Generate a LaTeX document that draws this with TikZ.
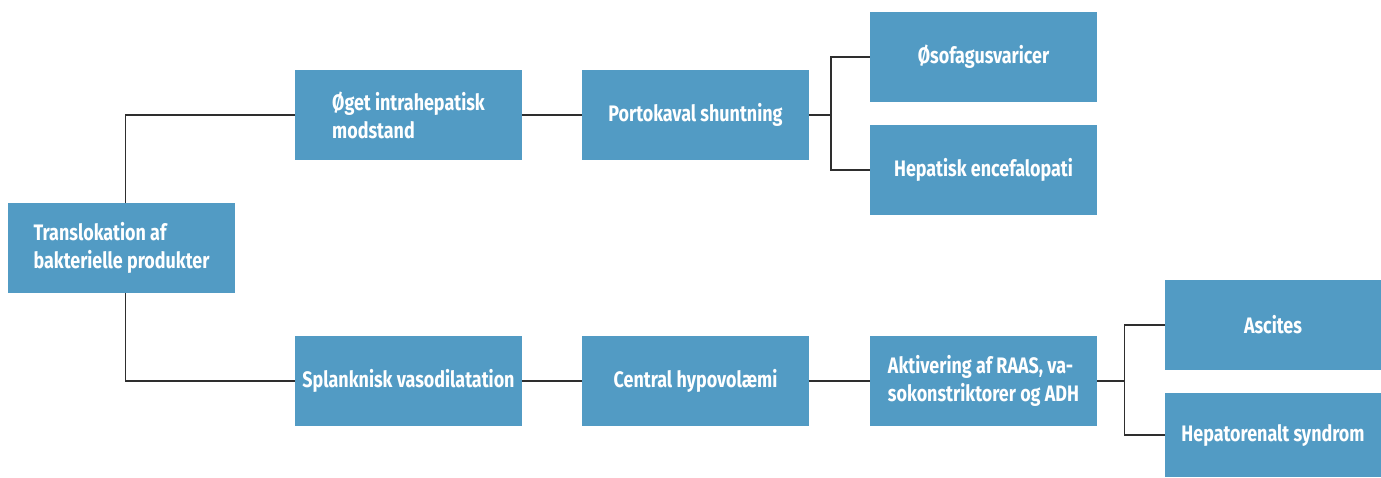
\documentclass[tikz,border=0pt]{standalone}
\usepackage{fontspec}
\setmainfont{Fira Sans}[FakeStretch=0.8]
\definecolor{boxblue}{HTML}{529BC4}
\definecolor{linegray}{HTML}{2E2E2E}
\tikzset{
  box/.style={rectangle, fill=boxblue, text=white, minimum width=227pt, minimum height=90pt,
    inner sep=0pt, font=\fontsize{22.4}{28}\selectfont\bfseries, align=left},
  conn/.style={draw=linegray, line width=1.2pt}
}
\begin{document}
\begin{tikzpicture}[x=1pt,y=-1pt]
\useasboundingbox (0,0) rectangle (1381,477);
\node[box] (trans) at (121.5,248) {Translokation af\\bakterielle produkter};
\node[box] (oget) at (408.5,115) {Øget intrahepatisk\\modstand};
\node[box] (porto) at (695.5,115) {Portokaval shuntning};
\node[box] (oso) at (983.5,57) {Øsofagusvaricer};
\node[box] (hep) at (983.5,170) {Hepatisk encefalopati};
\node[box] (splank) at (408.5,381) {Splanknisk vasodilatation};
\node[box] (central) at (695.5,381) {Central hypovolæmi};
\node[box] (akt) at (983.5,381) {Aktivering af RAAS, va-\\sokonstriktorer og ADH};
\node[box, minimum width=216pt] (asc) at (1273,325) {Ascites};
\node[box, minimum width=216pt, minimum height=84pt] (hrs) at (1273,435) {Hepatorenalt syndrom};
\coordinate (tx) at (125.5,248);
\coordinate (b1) at (831,115);
\coordinate (b2) at (1124.5,381);
\draw[conn] (tx |- trans.north) |- (oget.west);
\draw[conn] (tx |- trans.south) |- (splank.west);
\draw[conn] (oget.east) -- (porto.west);
\draw[conn] (splank.east) -- (central.west);
\draw[conn] (central.east) -- (akt.west);
\draw[conn] (porto.east) -- (b1);
\draw[conn] (oso.west) -| (b1) |- (hep.west);
\draw[conn] (akt.east) -- (b2);
\draw[conn] (asc.west) -| (b2) |- (hrs.west);
\end{tikzpicture}
\end{document}
